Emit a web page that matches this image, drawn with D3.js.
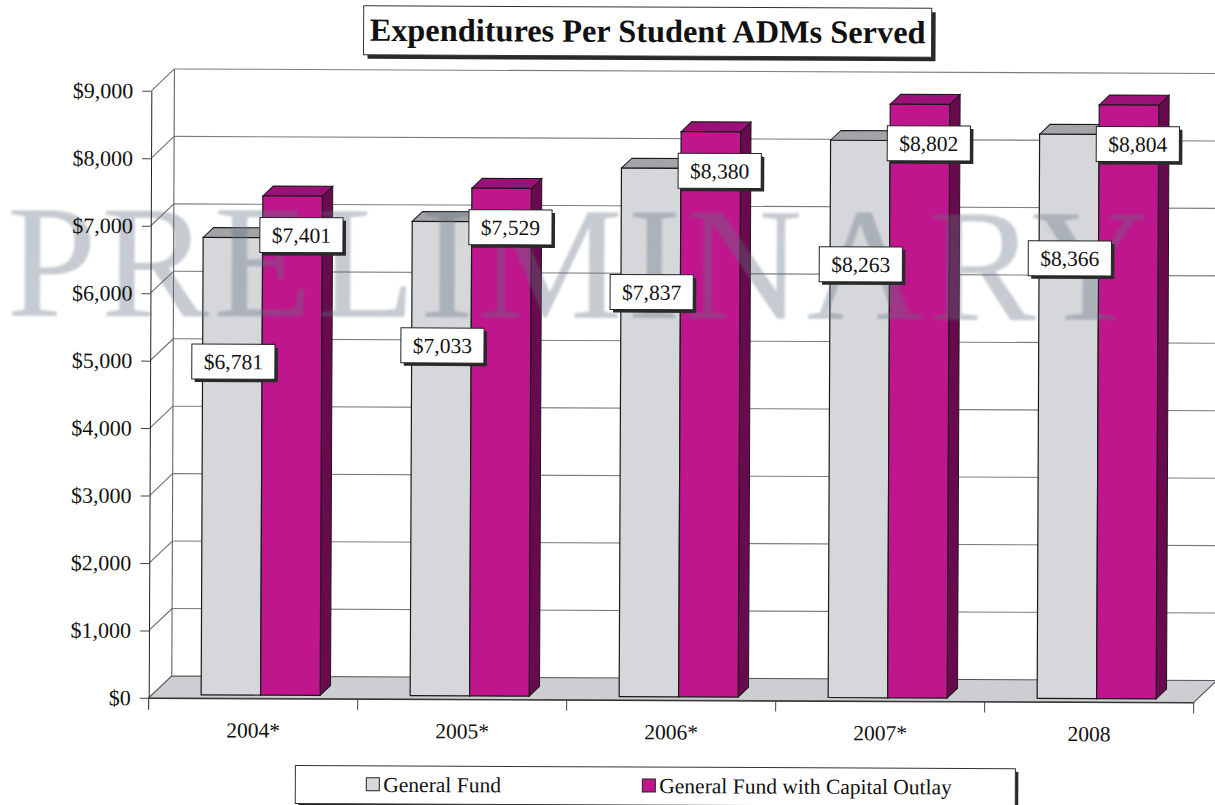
<!DOCTYPE html>
<html>
<head>
<meta charset="utf-8">
<script src="https://cdn.jsdelivr.net/npm/d3@7"></script>
<style>
  body { margin: 0; background: #fff; }
  svg { display: block; }
  text { font-family: "Liberation Serif", "Times New Roman", serif; fill: #111; }
</style>
</head>
<body>
<svg id="chart" width="1215" height="805"></svg>
<script>
// ---- data ----
const chartTitle = "Expenditures Per Student ADMs Served";
const categories = ["2004*", "2005*", "2006*", "2007*", "2008"];
const seriesNames = ["General Fund", "General Fund with Capital Outlay"];
const generalFund = [6781, 7033, 7837, 8263, 8366];
const generalFundCapital = [7401, 7529, 8380, 8802, 8804];
const yTickValues = [0, 1000, 2000, 3000, 4000, 5000, 6000, 7000, 8000, 9000];
const watermarkText = "PRELIMINARY";

// ---- layout ----
const svg = d3.select("#chart");
const root = svg.append("g").attr("transform", "rotate(0.25,640,400)");

const x = d3.scaleBand().domain(categories).range([150, 1195]);
const y = d3.scaleLinear().domain([0, 9000]).range([700, 93]);

// oblique depth vector for the 3-D look (z = 0 front, z = 1 back wall)
const DX = 23, DY = -22;
const P = (px, v, z) => [px + z * DX, y(v) + z * DY];
const poly = pts => pts.map(p => p.join(",")).join(" ");

const faces = {
  gray: { front: "#d6d7db", top: "#a3a4a8", side: "#8a8b8e" },
  pink: { front: "#c0168d", top: "#9c1178", side: "#6a0a4e" }
};

// ---- walls & floor ----
const walls = root.append("g");
const [xL, xR] = x.range();

// floor
walls.append("polygon")
  .attr("points", poly([P(xL, 0, 0), P(xR, 0, 0), P(xR, 0, 1), P(xL, 0, 1)]))
  .attr("fill", "#cdced1").attr("stroke", "#555").attr("stroke-width", 1);

// back wall gridlines and side-wall diagonals
yTickValues.forEach(t => {
  if (t > 0) {
    walls.append("line")
      .attr("x1", P(xL, t, 1)[0]).attr("y1", P(xL, t, 1)[1])
      .attr("x2", P(xR, t, 1)[0]).attr("y2", P(xR, t, 1)[1])
      .attr("stroke", "#7d7d7d").attr("stroke-width", 1.1);
  }
  walls.append("line")
    .attr("x1", P(xL, t, 0)[0]).attr("y1", P(xL, t, 0)[1])
    .attr("x2", P(xL, t, 1)[0]).attr("y2", P(xL, t, 1)[1])
    .attr("stroke", "#6d6d6d").attr("stroke-width", 1.1);
});
// back wall left edge
walls.append("line")
  .attr("x1", P(xL, 0, 1)[0]).attr("y1", P(xL, 0, 1)[1])
  .attr("x2", P(xL, 9000, 1)[0]).attr("y2", P(xL, 9000, 1)[1])
  .attr("stroke", "#666").attr("stroke-width", 1.1);

// ---- bars ----
const bw = 59.5, z0 = 0.15, z1 = 0.6, shift = 4;
const barData = [];
categories.forEach((c, i) => {
  const cx = x(c) + x.bandwidth() / 2 + shift;
  barData.push({ cat: c, s: 0, v: generalFund[i], x0: cx - bw, col: faces.gray });
  barData.push({ cat: c, s: 1, v: generalFundCapital[i], x0: cx, col: faces.pink });
});

const bars = root.append("g").selectAll("g").data(barData).join("g");
bars.append("polygon") // side face
  .attr("points", d => poly([P(d.x0 + bw, 0, z0), P(d.x0 + bw, d.v, z0), P(d.x0 + bw, d.v, z1), P(d.x0 + bw, 0, z1)]))
  .attr("fill", d => d.col.side).attr("stroke", "#1a1a1a").attr("stroke-width", 1);
bars.append("polygon") // top face
  .attr("points", d => poly([P(d.x0, d.v, z0), P(d.x0 + bw, d.v, z0), P(d.x0 + bw, d.v, z1), P(d.x0, d.v, z1)]))
  .attr("fill", d => d.col.top).attr("stroke", "#1a1a1a").attr("stroke-width", 1);
bars.append("polygon") // front face
  .attr("points", d => poly([P(d.x0, 0, z0), P(d.x0 + bw, 0, z0), P(d.x0 + bw, d.v, z0), P(d.x0, d.v, z0)]))
  .attr("fill", d => d.col.front).attr("stroke", "#1a1a1a").attr("stroke-width", 1.2);

// ---- axes ----
const yAxis = root.append("g")
  .attr("transform", `translate(${xL},0)`)
  .call(d3.axisLeft(y).tickValues(yTickValues).tickFormat(d3.format("$,")).tickSize(9).tickSizeOuter(0).tickPadding(9));
yAxis.select(".domain").attr("stroke", "#222");
yAxis.selectAll(".tick line").attr("stroke", "#444");
yAxis.selectAll("text").attr("font-size", 22).attr("font-family", "Liberation Serif").attr("fill", "#111");
// front axis continues below the floor edge
root.append("line").attr("x1", xL).attr("x2", xL).attr("y1", y(0)).attr("y2", y(0) + 12)
  .attr("stroke", "#222");

// category axis
const xAxis = root.append("g")
  .attr("transform", `translate(0,${y(0)})`)
  .call(d3.axisBottom(x).tickSize(0).tickPadding(24).tickSizeOuter(0));
xAxis.select(".domain").attr("stroke", "#333").attr("stroke-width", 1.3);
xAxis.selectAll("text").attr("font-size", 21.5).attr("font-family", "Liberation Serif").attr("fill", "#111");
// boundary ticks between categories
const bounds = categories.map(c => x(c) + x.step());
xAxis.selectAll(".bound").data(bounds).join("line").attr("class", "bound")
  .attr("x1", d => d).attr("x2", d => d).attr("y1", 0).attr("y2", 11)
  .attr("stroke", "#444");

// ---- watermark ----
const defs = svg.append("defs");
defs.append("filter").attr("id", "soft").append("feGaussianBlur").attr("stdDeviation", 0.8);
root.append("text")
  .text(watermarkText)
  .attr("x", 6).attr("y", 318)
  .attr("font-size", 162)
  .attr("font-family", "Liberation Serif")
  .attr("textLength", 1142).attr("lengthAdjust", "spacing")
  .style("fill", "#627180")
  .attr("opacity", 0.36)
  .attr("filter", "url(#soft)");

// axis labels sit above the watermark
yAxis.raise();

// ---- value labels ----
const labelG = root.append("g");
barData.forEach(d => {
  const [fx, fy] = P(d.x0, d.v, z0);
  const cx = fx + bw / 2 + (d.s === 0 ? 1 : 9);
  const cy = fy + (d.s === 0 ? 124 : 39);
  const g = labelG.append("g").attr("transform", `translate(${cx},${cy})`);
  const t = g.append("text").text(d3.format("$,")(d.v))
    .attr("text-anchor", "middle").attr("dy", "0.35em").attr("font-size", 21.5);
  const tw = t.node().getComputedTextLength();
  const w = tw + 24, h = 35;
  g.insert("rect", "text").attr("x", -w / 2 + 3).attr("y", -h / 2 + 3).attr("width", w).attr("height", h)
    .attr("fill", "#2a2a2a");
  g.insert("rect", "text").attr("x", -w / 2).attr("y", -h / 2).attr("width", w).attr("height", h)
    .attr("fill", "#fff").attr("stroke", "#222").attr("stroke-width", 1);
});

// ---- title ----
const titleG = root.append("g");
titleG.append("rect").attr("x", 366).attr("y", 11).attr("width", 568).attr("height", 49).attr("fill", "#2a2a2a");
titleG.append("rect").attr("x", 362).attr("y", 7).attr("width", 568).attr("height", 49)
  .attr("fill", "#fff").attr("stroke", "#333").attr("stroke-width", 1);
const tt = titleG.append("text").text(chartTitle)
  .attr("x", 646).attr("y", 42).attr("text-anchor", "middle")
  .attr("font-weight", "bold").attr("font-size", 30);
{
  const w = tt.node().getComputedTextLength();
  tt.attr("font-size", 30 * 556 / w);
}

// ---- legend ----
const legG = root.append("g");
legG.append("rect").attr("x", 300).attr("y", 770).attr("width", 720).attr("height", 38).attr("fill", "#2a2a2a");
legG.append("rect").attr("x", 297).attr("y", 767).attr("width", 720).attr("height", 38)
  .attr("fill", "#fff").attr("stroke", "#333").attr("stroke-width", 1);
const legendX = [368, 644];
seriesNames.forEach((name, i) => {
  const col = i === 0 ? faces.gray.front : faces.pink.front;
  legG.append("rect").attr("x", legendX[i]).attr("y", 779).attr("width", 13).attr("height", 13)
    .attr("fill", col).attr("stroke", "#222");
  legG.append("text").text(name).attr("x", legendX[i] + 17).attr("y", 793).attr("font-size", 21.5);
});
</script>
</body>
</html>
